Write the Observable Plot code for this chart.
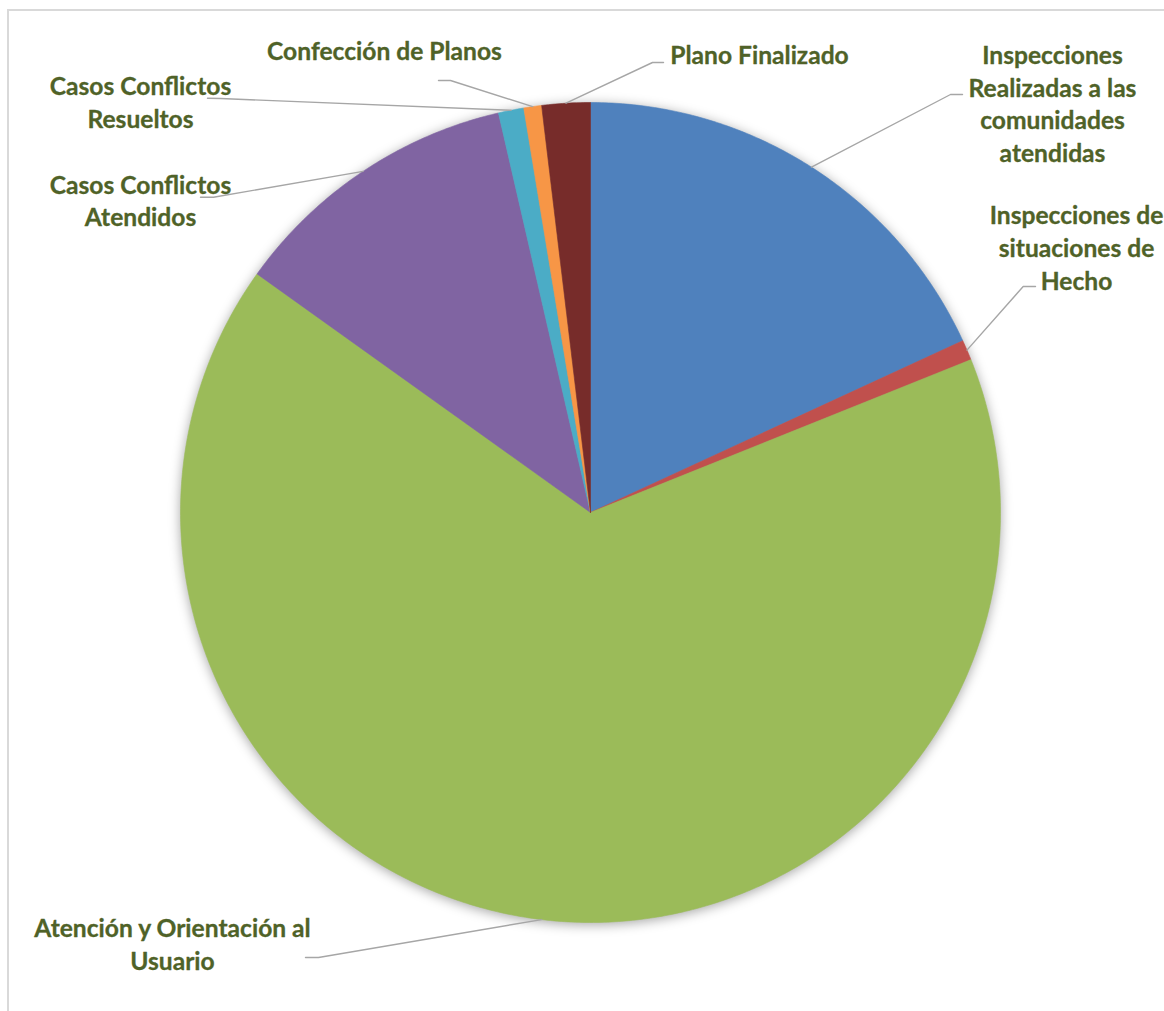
<!DOCTYPE html>
<html>
<head>
<meta charset="utf-8">
<script src="https://cdn.jsdelivr.net/npm/d3@7"></script>
<script src="https://cdn.jsdelivr.net/npm/@observablehq/plot@0.6"></script>
<style>
  html, body { margin: 0; padding: 0; background: #fff; }
  #wrap { position: relative; width: 1164px; height: 1011px; overflow: hidden; }
  #border { position: absolute; left: 7px; top: 9px; width: 1200px; height: 1100px;
            border-left: 2px solid #d9d9d9; border-top: 2px solid #d9d9d9; box-sizing: border-box; }
  #chart { position: absolute; left: 0; top: 0; }
</style>
</head>
<body>
<div id="wrap"><div id="border"></div><div id="chart"></div></div>
<script>
// ---- data ----
const categories = [
  "Inspecciones Realizadas a las comunidades atendidas",
  "Inspecciones de situaciones de Hecho",
  "Atención y Orientación al Usuario",
  "Casos Conflictos Atendidos",
  "Casos Conflictos Resueltos",
  "Confección de Planos",
  "Plano Finalizado"
];
const values = [18.1, 0.8, 65.9, 11.5, 1.0, 0.7, 1.9];
const labelTexts = [
  "Inspecciones\nRealizadas a las\ncomunidades\natendidas",
  "Inspecciones de\nsituaciones de\nHecho",
  "Atención y Orientación al\nUsuario",
  "Casos Conflictos\nAtendidos",
  "Casos Conflictos\nResueltos",
  "Confección de Planos",
  "Plano Finalizado"
];
const colors = ["#4F81BD", "#C0504D", "#9BBB59", "#8064A2", "#4BACC6", "#F79646", "#772C2A"];

// ---- layout (pixel space of the chart) ----
const W = 1164, H = 1011;
const cx = 590, cy = 512, R = 410;
const labelPos   = [[1052, 102], [1076, 246], [172, 942.5], [140, 199], [140, 100.5], [384, 49.5], [759, 53.5]];
const leaderElbow = [[950, 94], [1022.7, 286], [318, 957], [213, 196.7], [220, 98], [450, 80], [652, 62]];
const leaderEnd   = [[962, 94], [1035, 286], [305, 957], [200, 196.7], [207, 97.7], [438, 80], [663, 62]];

// ---- geometry from values ----
const arcs = d3.pie().sort(null).startAngle(0).endAngle(2 * Math.PI)(values);
const pt = (a, r) => [cx + r * Math.sin(a), cy - r * Math.cos(a)];

const wedgePts = [];
arcs.forEach((a, i) => {
  const cat = categories[i];
  wedgePts.push({cat, x: cx, y: cy});
  const n = Math.max(4, Math.ceil((a.endAngle - a.startAngle) / (Math.PI / 360)));
  for (let k = 0; k <= n; k++) {
    const t = a.startAngle + (a.endAngle - a.startAngle) * k / n;
    const [x, y] = pt(t, R);
    wedgePts.push({cat, x, y});
  }
  wedgePts.push({cat, x: cx, y: cy});
});

const leaderPts = [];
arcs.forEach((a, i) => {
  const mid = (a.startAngle + a.endAngle) / 2;
  const [sx, sy] = pt(mid, R);
  leaderPts.push({cat: categories[i], x: sx, y: sy});
  leaderPts.push({cat: categories[i], x: leaderElbow[i][0], y: leaderElbow[i][1]});
  leaderPts.push({cat: categories[i], x: leaderEnd[i][0], y: leaderEnd[i][1]});
});

const labels = categories.map((c, i) => ({cat: c, text: labelTexts[i], x: labelPos[i][0], y: labelPos[i][1]}));

const chart = Plot.plot({
  width: W, height: H,
  margin: 0,
  x: {domain: [0, W], axis: null},
  y: {domain: [0, H], reverse: true, axis: null},
  color: {domain: categories, range: colors},
  marks: [
    Plot.line(wedgePts, {x: "x", y: "y", z: "cat", fill: "cat", stroke: "cat", strokeWidth: 0.6, curve: "linear", className: "wedges"}),
    Plot.line(leaderPts, {x: "x", y: "y", z: "cat", stroke: "#A6A6A6", strokeWidth: 1.4, curve: "linear"}),
    Plot.text(labels, {x: "x", y: "y", text: "text", fill: "#4F6228", fontWeight: "bold",
      fontSize: 24.6, fontFamily: "Lato", lineHeight: 1.33, textAnchor: "middle",
      stroke: "#4F6228", strokeWidth: 0.3})
  ]
});
chart.style.background = "transparent";
const g = chart.querySelector(".wedges");
if (g) g.style.filter = "drop-shadow(0px 2px 6px rgba(0,0,0,0.35))";
document.getElementById("chart").appendChild(chart);
</script>
</body>
</html>
